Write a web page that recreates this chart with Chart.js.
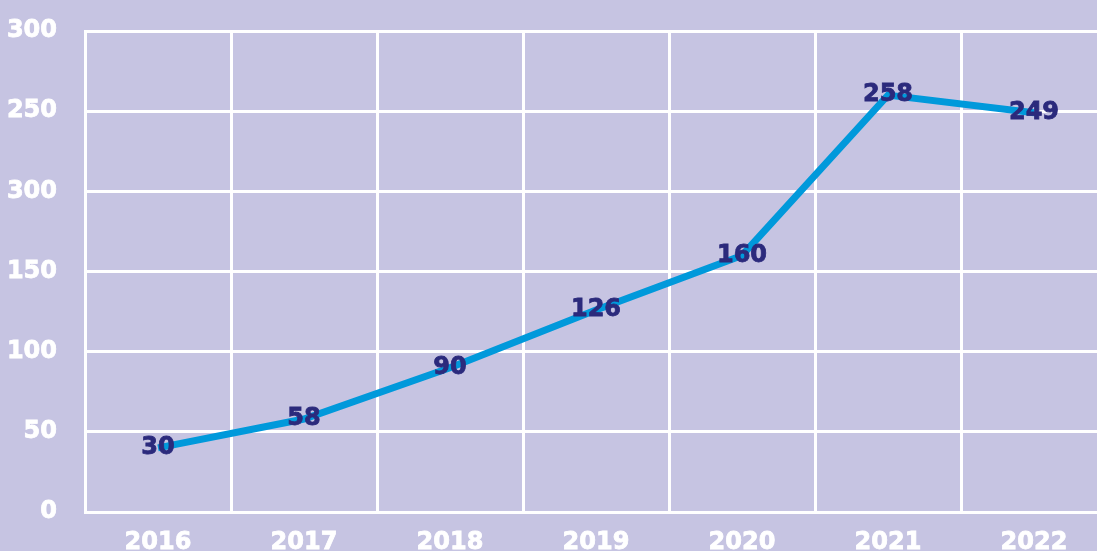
<!DOCTYPE html>
<html>
<head>
<meta charset="utf-8">
<script src="https://cdn.jsdelivr.net/npm/chart.js@4/dist/chart.umd.min.js"></script>
<style>
  html, body { margin:0; padding:0; background:#c6c4e2; overflow:hidden; }
  #wrap { position:absolute; left:0; top:0; width:1107px; height:570px; }
</style>
</head>
<body>
<div id="wrap"><canvas id="chart"></canvas></div>
<script>
// data
const years = ['2016','2017','2018','2019','2020','2021','2022'];
const values = [40, 58, 90, 126, 160, 260, 249];
const valueLabels = ['30','58','90','126','160','258','249'];
const yTickLabels = ['0','50','100','150','300','250','300'];

const FONT = '"DejaVu Sans", Verdana, sans-serif';

// draw the value text on each point
const valueText = {
    id:'valueText',
    afterDatasetsDraw(chart){
        const ctx = chart.ctx;
        const meta = chart.getDatasetMeta(0);
        ctx.save();
        ctx.font = 'bold 24px ' + FONT;
        ctx.fillStyle = '#2b2a7c';
        ctx.strokeStyle = '#2b2a7c';
        ctx.lineWidth = 0.8;
        ctx.textAlign = 'center';
        ctx.textBaseline = 'middle';
        meta.data.forEach((pt,i) => {
            ctx.fillText(valueLabels[i], pt.x, pt.y);
            ctx.strokeText(valueLabels[i], pt.x, pt.y);
        });
        ctx.restore();
    }
};

const tickFont = { family:FONT, size:24, weight:'bold' };

new Chart(document.getElementById('chart'), {
    type:'line',
    data:{
        labels: years,
        datasets:[{
            data: values,
            borderColor:'#0099db',
            borderWidth:7,
            borderCapStyle:'butt',
            pointRadius:0,
            pointHoverRadius:0,
            tension:0,
            fill:false
        }]
    },
    options:{
        responsive:true,
        maintainAspectRatio:false,
        animation:false,
        layout:{ padding:{ top:31, left:0, right:0, bottom:0 } },
        plugins:{ legend:{display:false}, tooltip:{enabled:false} },
        scales:{
            x:{
                offset:true,
                grid:{ color:'#ffffff', lineWidth:3, drawTicks:false, offset:true },
                border:{ color:'#ffffff', width:3 },
                ticks:{ color:'#ffffff', font:tickFont, padding:16, maxRotation:0,
                        textStrokeColor:'#ffffff', textStrokeWidth:0.8 },
                afterFit(scale){ scale.height = 58; }
            },
            y:{
                min:0, max:300,
                grid:{ color:'#ffffff', lineWidth:3, drawTicks:false },
                border:{ color:'#ffffff', width:3 },
                ticks:{
                    stepSize:50,
                    color:'#ffffff',
                    font:tickFont,
                    padding:28,
                    textStrokeColor:'#ffffff',
                    textStrokeWidth:0.8,
                    callback:(v,i) => yTickLabels[i]
                },
                afterFit(scale){ scale.width = 85; scale.paddingTop = 0; scale.paddingBottom = 0; }
            }
        }
    },
    plugins:[valueText]
});
</script>
</body>
</html>
